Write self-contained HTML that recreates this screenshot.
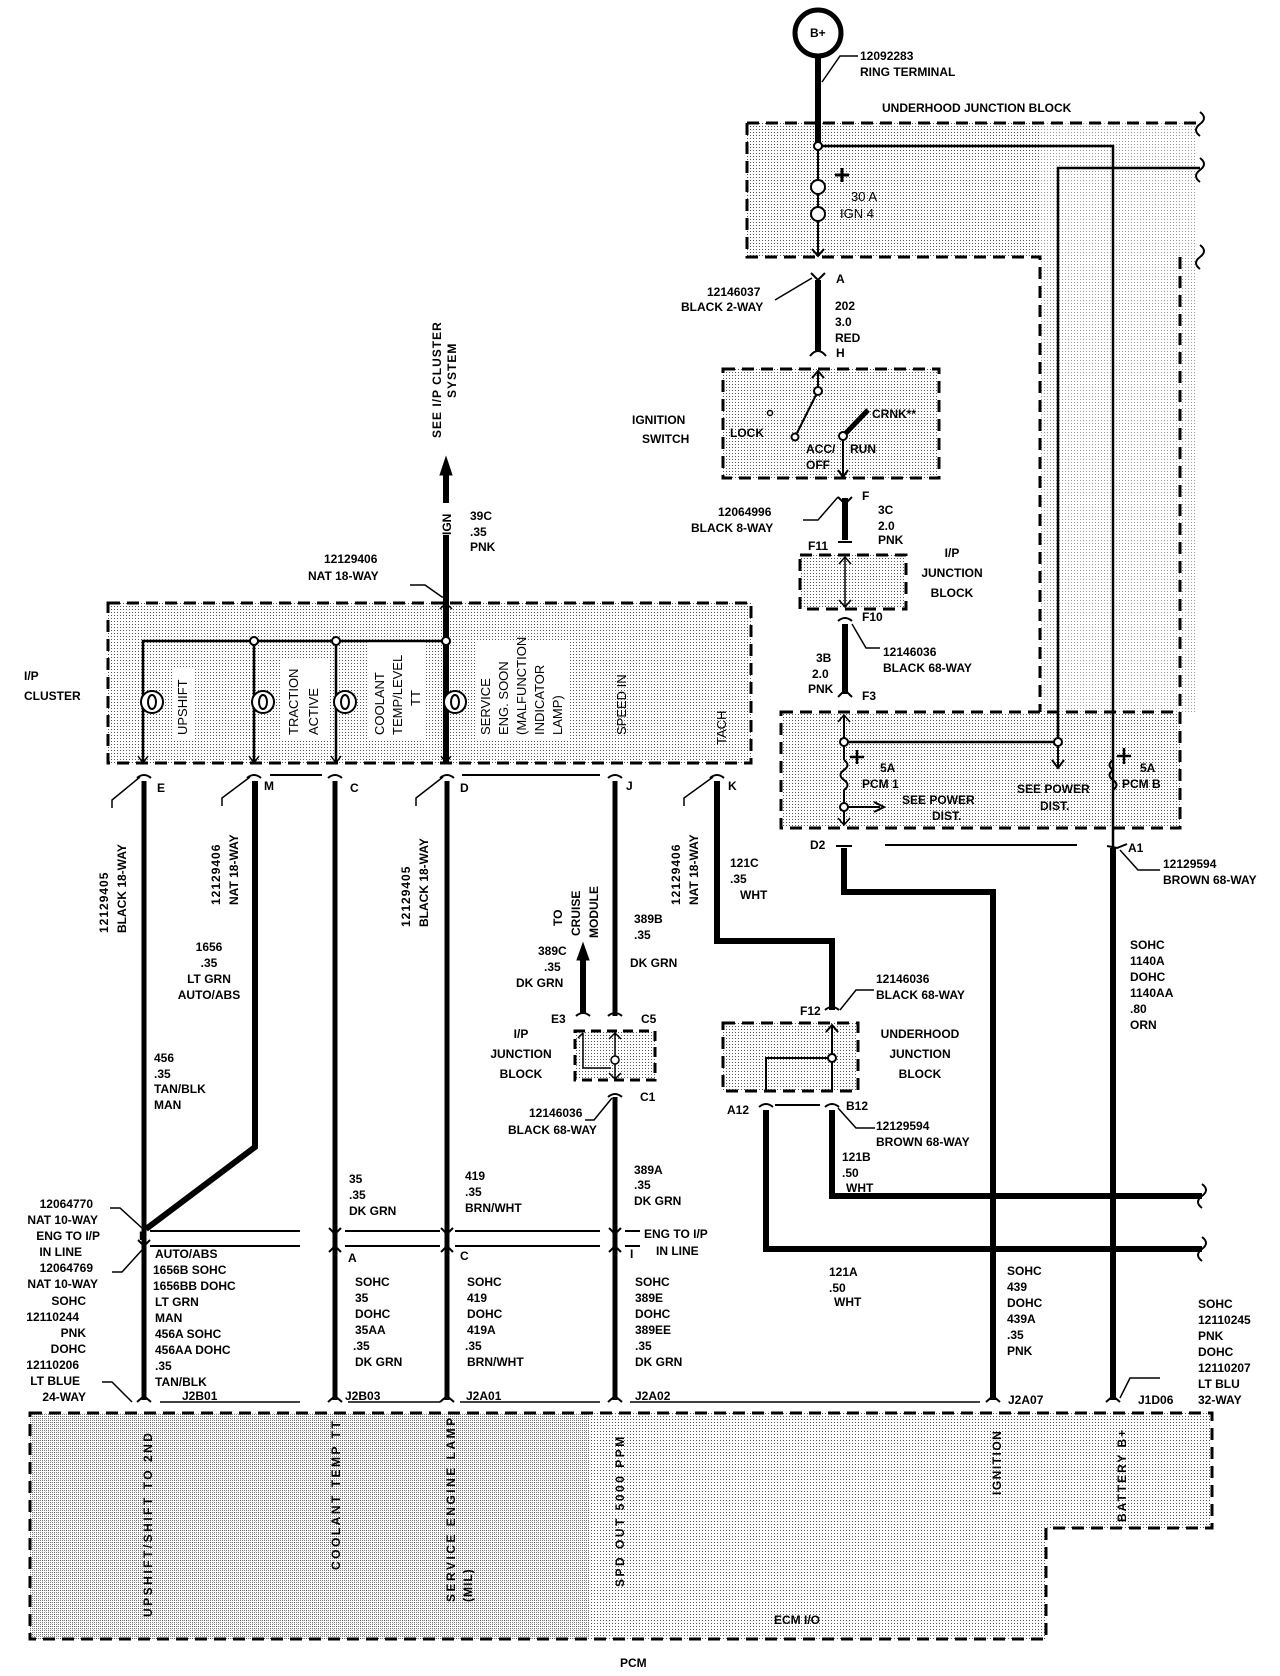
<!DOCTYPE html>
<html><head><meta charset="utf-8"><style>
html,body{margin:0;padding:0;background:#fff;}
svg{display:block;}
text{font-family:"Liberation Sans",sans-serif;font-weight:bold;font-size:12px;fill:#000;}
.n{font-weight:normal;font-size:13px;}
</style></head><body>
<svg width="1280" height="1676" viewBox="0 0 1280 1676" xmlns="http://www.w3.org/2000/svg">
<defs>
<pattern id="st" width="3" height="3" patternUnits="userSpaceOnUse"><rect width="3" height="3" fill="#fff"/><rect width="1" height="1" fill="#555"/></pattern>
<pattern id="st2" width="2" height="2" patternUnits="userSpaceOnUse"><rect width="2" height="2" fill="#fff"/><rect width="1" height="1" fill="#444"/></pattern>
</defs>
<g fill="none" stroke="#000">
<!-- UJB top -->
<path d="M747,123 H1040 V257 H747 Z" fill="url(#st)" stroke="none"/>
<path d="M1040,123 H1195 V712 H1040 Z" fill="url(#st)" stroke="none" opacity="0.6"/>
<path d="M747,123 H1200 M747,123 V257 H1040 V712" stroke-width="3" stroke-dasharray="12,7"/>
<path d="M1200,112 q8,6 0,12 q-8,6 0,12 M1200,158 q8,6 0,12 q-8,6 0,12 M1200,245 q8,6 0,12 q-8,6 0,12" stroke-width="2"/>
<!-- lower PCM fuse box -->
<rect x="781" y="712" width="399" height="116" fill="url(#st)" stroke-width="3" stroke-dasharray="12,7"/>
<path d="M1180,257 V712" stroke-width="3" stroke-dasharray="12,7"/>
<!-- B+ -->
<circle cx="818" cy="33" r="23" fill="#fff" stroke-width="5"/>
<path d="M818,56 V146" stroke-width="6"/>
<path d="M818,146 V180 M818,221 V255" stroke-width="2"/>
<circle cx="818" cy="146" r="4" fill="#fff" stroke-width="2"/>
<circle cx="818" cy="187" r="7" fill="#fff" stroke-width="2"/>
<circle cx="818" cy="214" r="7" fill="#fff" stroke-width="2"/>
<path d="M818,194 L818,207" stroke-width="2"/>
<path d="M842,168 V182 M835,175 H849" stroke-width="3"/>
<path d="M812,249 L818,256 L824,249" stroke-width="2"/>
<path d="M822,146 H1113 V1400" stroke-width="2.5"/>
<path d="M1200,168 H1058 V742" stroke-width="2.5"/>
<path d="M858,56 L840,56 L822,82" stroke-width="1.5"/>
<!-- 202 wire -->
<path d="M818,280 V352" stroke-width="6"/>
<path d="M811,273 L818,280 L825,273 M810,356 Q818,346 826,356" stroke-width="2"/>
<path d="M775,300 L812,278" stroke-width="1.5"/>
<!-- ignition switch -->
<rect x="723" y="369" width="216" height="109" fill="url(#st)" stroke-width="3" stroke-dasharray="12,7"/>
<path d="M818,372 V387 M812,378 L818,371 L824,378" stroke-width="2"/>
<circle cx="818" cy="391" r="4" fill="#fff" stroke-width="2"/>
<path d="M816,395 L797,433" stroke-width="2"/>
<circle cx="795" cy="437" r="3.5" fill="#fff" stroke-width="2"/>
<circle cx="770" cy="413" r="2.5" fill="#fff" stroke-width="1.5"/>
<path d="M845,434 L868,410" stroke-width="5"/>
<circle cx="843" cy="436" r="4" fill="#fff" stroke-width="2"/>
<path d="M843,440 V476 M838,470 L843,477 L848,470" stroke-width="2"/>
<!-- 3C wire -->
<path d="M845,498 V540" stroke-width="6"/>
<path d="M838,542 H852 M838,497 L845,504 L852,497" stroke-width="2"/>
<path d="M803,520 L818,520 L838,497" stroke-width="1.5"/>
<!-- I/P junction block -->
<rect x="800" y="555" width="106" height="54" fill="url(#st)" stroke-width="3" stroke-dasharray="12,7"/>
<path d="M845,557 V607 M839,564 L845,557 L851,564 M839,600 L845,607 L851,600" stroke-width="1.5"/>
<!-- 3B wire -->
<path d="M845,624 V694" stroke-width="6"/>
<path d="M838,621 Q845,615 852,621 M838,697 L845,690 L852,697" stroke-width="2"/>
<path d="M852,624 L866,648 L880,648" stroke-width="1.5"/>
<!-- PCM fuse box internals -->
<path d="M844,716 V760 M844,790 V824" stroke-width="2"/>
<path d="M838,722 L844,715 L850,722 M838,818 L844,825 L850,818" stroke-width="1.5"/>
<path d="M844,760 q7,5 0,10 q-7,5 0,10 q7,5 0,10" stroke-width="2"/>
<path d="M848,742 H1054" stroke-width="2.5"/>
<circle cx="844" cy="742" r="4" fill="#fff" stroke-width="2"/>
<circle cx="1058" cy="742" r="4" fill="#fff" stroke-width="2"/>
<path d="M1058,746 V768 M1052,760 L1058,768 L1064,760" stroke-width="2"/>
<circle cx="844" cy="807" r="4" fill="#fff" stroke-width="2"/>
<path d="M848,807 H880 M874,802 L884,807 L874,812" stroke-width="2"/>
<path d="M857,750 V764 M850,757 H864" stroke-width="2.5"/>
<path d="M1124,748 V764 M1117,756 H1131" stroke-width="2.5"/>
<path d="M1113,760 q-7,5 0,10 q-7,5 0,10 q7,5 0,10" stroke-width="2"/>
<!-- D2 wire -->
<path d="M844,848 V892 H993 V1400" stroke-width="6"/>
<path d="M836,846 H852 M885,845 H1077 M1107,846 L1117,848 L1127,844" stroke-width="2"/>
<path d="M1113,848 V1400" stroke-width="6"/>
<path d="M1120,850 L1138,870 L1160,870" stroke-width="1.5"/>
<path d="M986,1402 L993,1396 L1000,1402 M1106,1402 L1113,1396 L1120,1402" stroke-width="2"/>
<path d="M1120,1398 L1130,1378 L1160,1378" stroke-width="1.5"/>
<!-- I/P cluster -->
<rect x="108" y="603" width="643" height="160" fill="url(#st)" stroke-width="3" stroke-dasharray="12,7"/>
<rect x="172" y="668" width="22" height="72" fill="#fff" stroke="none"/>
<rect x="282" y="660" width="46" height="80" fill="#fff" stroke="none"/>
<rect x="368" y="640" width="56" height="100" fill="#fff" stroke="none"/>
<rect x="476" y="640" width="94" height="100" fill="#fff" stroke="none"/>
<path d="M446,470 V503 M446,535 V763" stroke-width="6"/>
<path d="M446,604 V763" stroke-width="2"/>
<path d="M446,457 L440,475 H452 Z" fill="#000" stroke-width="1"/>
<path d="M143,763 V641 H446 M254,641 V763 M336,641 V763" stroke-width="2.5"/>
<circle cx="254" cy="641" r="4" fill="#fff" stroke-width="2"/>
<circle cx="336" cy="641" r="4" fill="#fff" stroke-width="2"/>
<circle cx="446" cy="641" r="4" fill="#fff" stroke-width="2"/>
<g stroke-width="2" fill="#fff">
<circle cx="152" cy="702" r="11"/><ellipse cx="152" cy="702" rx="4" ry="7"/>
<circle cx="263" cy="702" r="11"/><ellipse cx="263" cy="702" rx="4" ry="7"/>
<circle cx="345" cy="702" r="11"/><ellipse cx="345" cy="702" rx="4" ry="7"/>
<circle cx="455" cy="702" r="11"/><ellipse cx="455" cy="702" rx="4" ry="7"/>
</g>
<path d="M440,609 L446,603 L452,609 M138,756 L143,763 L148,756 M249,756 L254,763 L259,756 M331,756 L336,763 L341,756 M441,756 L446,763 L451,756" stroke-width="1.5"/>
<path d="M410,585 L425,585 L442,597 L446,597" stroke-width="1.5"/>
<!-- connectors below cluster -->
<g stroke-width="2">
<path d="M137,778 Q144,772 151,778 M247,778 Q254,772 261,778 M328,778 Q335,772 342,778 M440,778 Q447,772 454,778 M608,778 Q615,772 622,778 M710,778 Q717,772 724,778"/>
<path d="M270,775 H322 M462,775 H600"/>
</g>
<path d="M144,781 V1400" stroke-width="5"/>
<path d="M255,781 V1147 L146,1229" stroke-width="6"/>
<path d="M335,781 V1400" stroke-width="5"/>
<path d="M447,781 V1400" stroke-width="5"/>
<path d="M615,781 V1016 M615,1097 V1400" stroke-width="5"/>
<path d="M717,781 V941 H832 V1010" stroke-width="6"/>
<path d="M112,808 L112,800 L140,777 M222,806 L222,798 L250,777 M416,806 L416,798 L443,777 M684,806 L684,798 L713,777" stroke-width="1.5"/>
<!-- inline connector -->
<path d="M150,1231 H300 M345,1231 H440 M455,1231 H600 M625,1231 H640 M150,1246 H300 M345,1246 H440 M455,1246 H600 M625,1246 H640" stroke-width="2"/>
<path d="M138,1240 L144,1246 L150,1240 M329,1228 L335,1234 L341,1228 M441,1228 L447,1234 L453,1228 M609,1228 L615,1234 L621,1228 M329,1252 L335,1246 L341,1252 M441,1252 L447,1246 L453,1252 M609,1252 L615,1246 L621,1252" stroke-width="2"/>
<path d="M110,1208 L120,1208 L142,1228 M112,1272 L122,1272 L142,1250" stroke-width="1.5"/>
<path d="M102,1382 L112,1382 L132,1402" stroke-width="1.5"/>
<path d="M137,1402 L144,1396 L151,1402 M328,1402 L335,1396 L342,1402 M440,1402 L447,1396 L454,1402 M608,1402 L615,1396 L622,1402" stroke-width="2"/>
<path d="M160,1402 H300 M348,1402 H440 M460,1402 H600 M630,1402 H980" stroke-width="1.5"/>
<!-- cruise/IPJB small -->
<path d="M583,955 V1013" stroke-width="6"/>
<path d="M583,943 L577,960 H589 Z" fill="#000" stroke-width="1"/>
<path d="M576,1016 Q583,1010 590,1016 M608,1016 Q615,1010 622,1016" stroke-width="2"/>
<rect x="575" y="1031" width="80" height="49" fill="url(#st)" stroke-width="3" stroke-dasharray="10,6"/>
<path d="M583,1033 V1068 H611 M615,1033 V1079 M609,1039 L615,1033 L621,1039 M609,1073 L615,1079 L621,1073 M578,1038 L583,1033" stroke-width="1.5"/>
<circle cx="615" cy="1060" r="4" fill="#fff" stroke-width="1.5"/>
<path d="M608,1097 Q615,1091 622,1097" stroke-width="2"/>
<path d="M585,1120 L594,1120 L612,1098" stroke-width="1.5"/>
<!-- underhood lower -->
<rect x="723" y="1023" width="135" height="68" fill="url(#st)" stroke-width="3" stroke-dasharray="12,7"/>
<path d="M825,1010 Q832,1004 839,1010" stroke-width="2"/>
<path d="M840,1010 L856,990 L874,990" stroke-width="1.5"/>
<path d="M832,1026 V1091 M826,1032 L832,1025 L838,1032 M828,1058 H766 V1091" stroke-width="2"/>
<circle cx="832" cy="1058" r="4" fill="#fff" stroke-width="2"/>
<path d="M759,1107 Q766,1101 773,1107 M825,1107 Q832,1101 839,1107 M775,1105 H820" stroke-width="2"/>
<path d="M838,1108 L856,1128 L875,1128" stroke-width="1.5"/>
<path d="M832,1110 V1196 H1202 M766,1110 V1249 H1202" stroke-width="6"/>
<path d="M1202,1184 q8,6 0,12 q-8,6 0,12 M1202,1237 q8,6 0,12 q-8,6 0,12" stroke-width="2"/>
<!-- PCM -->
<path d="M30,1413 H1212 V1528 H1046 V1639 H30 Z" fill="url(#st)" stroke="none"/>
<rect x="30" y="1413" width="560" height="226" fill="url(#st2)" stroke="none" opacity="0.7"/>
<path d="M30,1413 H1212 V1528 H1046 V1639 H30 Z" stroke-width="3" stroke-dasharray="12,7"/>
</g>

<!-- TEXT -->
<text x="810" y="37" font-size="11">B+</text>
<text x="860" y="60">12092283</text>
<text x="860" y="76">RING TERMINAL</text>
<text x="882" y="112" font-size="14">UNDERHOOD JUNCTION BLOCK</text>
<text x="851" y="201" class="n" font-size="12">30 A</text>
<text x="840" y="218" class="n" font-size="12">IGN  4</text>
<text x="836" y="283">A</text>
<text x="707" y="296">12146037</text>
<text x="681" y="311">BLACK 2-WAY</text>
<text x="835" y="310">202</text>
<text x="835" y="326">3.0</text>
<text x="835" y="342">RED</text>
<text x="836" y="357">H</text>
<text x="632" y="424" font-size="14">IGNITION</text>
<text x="642" y="443" font-size="14">SWITCH</text>
<text x="730" y="437">LOCK</text>
<text x="806" y="453">ACC/</text>
<text x="806" y="469">OFF</text>
<text x="872" y="418">CRNK**</text>
<text x="850" y="453">RUN</text>
<text x="862" y="500" font-size="11">F</text>
<text x="718" y="516">12064996</text>
<text x="691" y="532">BLACK 8-WAY</text>
<text x="878" y="514">3C</text>
<text x="878" y="530">2.0</text>
<text x="878" y="544">PNK</text>
<text x="808" y="550">F11</text>
<text x="952" y="557" font-size="14" text-anchor="middle">I/P</text>
<text x="952" y="577" font-size="14" text-anchor="middle">JUNCTION</text>
<text x="952" y="597" font-size="14" text-anchor="middle">BLOCK</text>
<text x="862" y="621">F10</text>
<text x="883" y="656">12146036</text>
<text x="883" y="672">BLACK 68-WAY</text>
<text x="816" y="662">3B</text>
<text x="812" y="678">2.0</text>
<text x="808" y="693">PNK</text>
<text x="862" y="700">F3</text>
<text x="880" y="772">5A</text>
<text x="862" y="788">PCM 1</text>
<text x="902" y="804">SEE POWER</text>
<text x="932" y="820">DIST.</text>
<text x="1017" y="793">SEE POWER</text>
<text x="1040" y="810">DIST.</text>
<text x="1140" y="772">5A</text>
<text x="1122" y="788">PCM B</text>
<text x="810" y="849">D2</text>
<text x="1128" y="852">A1</text>
<text x="1163" y="868">12129594</text>
<text x="1163" y="884">BROWN 68-WAY</text>
<text x="1130" y="949">SOHC</text>
<text x="1130" y="965">1140A</text>
<text x="1130" y="981">DOHC</text>
<text x="1130" y="997">1140AA</text>
<text x="1130" y="1013">.80</text>
<text x="1130" y="1029">ORN</text>
<text x="730" y="867">121C</text>
<text x="730" y="883">.35</text>
<text x="740" y="899">WHT</text>
<text x="800" y="1015">F12</text>
<text x="876" y="983">12146036</text>
<text x="876" y="999">BLACK 68-WAY</text>
<text x="920" y="1038" font-size="14" text-anchor="middle">UNDERHOOD</text>
<text x="920" y="1058" font-size="14" text-anchor="middle">JUNCTION</text>
<text x="920" y="1078" font-size="14" text-anchor="middle">BLOCK</text>
<text x="727" y="1114">A12</text>
<text x="846" y="1110">B12</text>
<text x="876" y="1130">12129594</text>
<text x="876" y="1146">BROWN 68-WAY</text>
<text x="842" y="1161">121B</text>
<text x="842" y="1177">.50</text>
<text x="846" y="1192">WHT</text>
<text x="829" y="1276">121A</text>
<text x="829" y="1292">.50</text>
<text x="834" y="1306">WHT</text>
<text x="1007" y="1275">SOHC</text>
<text x="1007" y="1291">439</text>
<text x="1007" y="1307">DOHC</text>
<text x="1007" y="1323">439A</text>
<text x="1007" y="1339">.35</text>
<text x="1007" y="1355">PNK</text>
<text x="1008" y="1404">J2A07</text>
<text x="1138" y="1404">J1D06</text>
<text x="1198" y="1308">SOHC</text>
<text x="1198" y="1324">12110245</text>
<text x="1198" y="1340">PNK</text>
<text x="1198" y="1356">DOHC</text>
<text x="1198" y="1372">12110207</text>
<text x="1198" y="1388">LT BLU</text>
<text x="1198" y="1404">32-WAY</text>

<!-- left rotated -->
<text transform="translate(441,438) rotate(-90)" letter-spacing="1">SEE I/P CLUSTER</text>
<text transform="translate(456,398) rotate(-90)" letter-spacing="1">SYSTEM</text>
<text transform="translate(451,535) rotate(-90)" font-size="11">IGN</text>
<text x="470" y="520">39C</text>
<text x="470" y="536">.35</text>
<text x="470" y="551">PNK</text>
<text x="324" y="563">12129406</text>
<text x="308" y="580">NAT 18-WAY</text>
<text x="24" y="680" font-size="14">I/P</text>
<text x="24" y="700" font-size="14">CLUSTER</text>
<g class="n">
<text transform="translate(187,735) rotate(-90)" class="n">UPSHIFT</text>
<text transform="translate(298,735) rotate(-90)" class="n">TRACTION</text>
<text transform="translate(318,735) rotate(-90)" class="n">ACTIVE</text>
<text transform="translate(384,735) rotate(-90)" class="n">COOLANT</text>
<text transform="translate(402,735) rotate(-90)" class="n">TEMP/LEVEL</text>
<text transform="translate(420,706) rotate(-90)" class="n">TT</text>
<text transform="translate(490,735) rotate(-90)" class="n">SERVICE</text>
<text transform="translate(508,735) rotate(-90)" class="n">ENG. SOON</text>
<text transform="translate(526,735) rotate(-90)" class="n">(MALFUNCTION</text>
<text transform="translate(544,735) rotate(-90)" class="n">INDICATOR</text>
<text transform="translate(562,735) rotate(-90)" class="n">LAMP)</text>
<text transform="translate(626,735) rotate(-90)" class="n">SPEED IN</text>
<text transform="translate(726,745) rotate(-90)" class="n">TACH</text>
</g>
<text x="157" y="792" font-size="11">E</text>
<text x="264" y="790" font-size="11">M</text>
<text x="350" y="792" font-size="11">C</text>
<text x="460" y="792" font-size="11">D</text>
<text x="626" y="790" font-size="11">J</text>
<text x="728" y="790" font-size="11">K</text>
<text transform="translate(108,933) rotate(-90)" letter-spacing="1">12129405</text>
<text transform="translate(126,933) rotate(-90)">BLACK 18-WAY</text>
<text transform="translate(220,905) rotate(-90)" letter-spacing="1">12129406</text>
<text transform="translate(238,905) rotate(-90)">NAT 18-WAY</text>
<text transform="translate(410,927) rotate(-90)" letter-spacing="1">12129405</text>
<text transform="translate(428,927) rotate(-90)">BLACK 18-WAY</text>
<text transform="translate(680,905) rotate(-90)" letter-spacing="1">12129406</text>
<text transform="translate(698,905) rotate(-90)">NAT 18-WAY</text>
<text transform="translate(562,926) rotate(-90)" font-size="13">TO</text>
<text transform="translate(580,936) rotate(-90)" font-size="13">CRUISE</text>
<text transform="translate(598,938) rotate(-90)" font-size="13">MODULE</text>
<text x="209" y="951" text-anchor="middle">1656</text>
<text x="209" y="967" text-anchor="middle">.35</text>
<text x="209" y="983" text-anchor="middle">LT GRN</text>
<text x="209" y="999" text-anchor="middle">AUTO/ABS</text>
<text x="154" y="1062">456</text>
<text x="154" y="1078">.35</text>
<text x="154" y="1093">TAN/BLK</text>
<text x="154" y="1109">MAN</text>
<text x="538" y="955">389C</text>
<text x="544" y="971">.35</text>
<text x="516" y="987">DK GRN</text>
<text x="634" y="923">389B</text>
<text x="634" y="939">.35</text>
<text x="630" y="967">DK GRN</text>
<text x="551" y="1023">E3</text>
<text x="641" y="1023">C5</text>
<text x="521" y="1038" font-size="14" text-anchor="middle">I/P</text>
<text x="521" y="1058" font-size="14" text-anchor="middle">JUNCTION</text>
<text x="521" y="1078" font-size="14" text-anchor="middle">BLOCK</text>
<text x="640" y="1101">C1</text>
<text x="529" y="1117">12146036</text>
<text x="508" y="1134">BLACK 68-WAY</text>
<text x="634" y="1174">389A</text>
<text x="634" y="1189">.35</text>
<text x="634" y="1205">DK GRN</text>
<text x="465" y="1180">419</text>
<text x="465" y="1196">.35</text>
<text x="465" y="1212">BRN/WHT</text>
<text x="349" y="1183">35</text>
<text x="349" y="1199">.35</text>
<text x="349" y="1215">DK GRN</text>
<text x="644" y="1238">ENG TO I/P</text>
<text x="656" y="1255">IN LINE</text>
<text x="139" y="1240" font-size="11">E</text>
<text x="348" y="1262" font-size="11">A</text>
<text x="460" y="1260" font-size="11">C</text>
<text x="630" y="1258" font-size="11">I</text>
<g text-anchor="end">
<text x="93" y="1208">12064770</text>
<text x="98" y="1224">NAT 10-WAY</text>
<text x="100" y="1240">ENG TO I/P</text>
<text x="82" y="1256">IN LINE</text>
<text x="93" y="1272">12064769</text>
<text x="98" y="1288">NAT 10-WAY</text>
<text x="86" y="1305">SOHC</text>
<text x="79" y="1321">12110244</text>
<text x="86" y="1337">PNK</text>
<text x="86" y="1353">DOHC</text>
<text x="79" y="1369">12110206</text>
<text x="80" y="1385">LT BLUE</text>
<text x="86" y="1401">24-WAY</text>
</g>
<text x="155" y="1258">AUTO/ABS</text>
<text x="153" y="1274">1656B SOHC</text>
<text x="153" y="1290">1656BB DOHC</text>
<text x="155" y="1306">LT GRN</text>
<text x="155" y="1322">MAN</text>
<text x="155" y="1338">456A SOHC</text>
<text x="155" y="1354">456AA DOHC</text>
<text x="155" y="1370">.35</text>
<text x="155" y="1386">TAN/BLK</text>
<text x="182" y="1400">J2B01</text>
<text x="355" y="1286">SOHC</text>
<text x="355" y="1302">35</text>
<text x="355" y="1318">DOHC</text>
<text x="355" y="1334">35AA</text>
<text x="353" y="1350">.35</text>
<text x="355" y="1366">DK GRN</text>
<text x="345" y="1400">J2B03</text>
<text x="467" y="1286">SOHC</text>
<text x="467" y="1302">419</text>
<text x="467" y="1318">DOHC</text>
<text x="467" y="1334">419A</text>
<text x="465" y="1350">.35</text>
<text x="467" y="1366">BRN/WHT</text>
<text x="466" y="1400">J2A01</text>
<text x="635" y="1286">SOHC</text>
<text x="635" y="1302">389E</text>
<text x="635" y="1318">DOHC</text>
<text x="635" y="1334">389EE</text>
<text x="635" y="1350">.35</text>
<text x="635" y="1366">DK GRN</text>
<text x="635" y="1400">J2A02</text>
<!-- PCM labels -->
<text transform="translate(152,1617) rotate(-90)" letter-spacing="2.5">UPSHIFT/SHIFT TO 2ND</text>
<text transform="translate(340,1570) rotate(-90)" letter-spacing="2.5">COOLANT TEMP TT</text>
<text transform="translate(455,1602) rotate(-90)" letter-spacing="2.5">SERVICE ENGINE LAMP</text>
<text transform="translate(472,1602) rotate(-90)" letter-spacing="1">(MIL)</text>
<text transform="translate(624,1587) rotate(-90)" letter-spacing="2.5">SPD OUT 5000 PPM</text>
<text transform="translate(1001,1495) rotate(-90)" letter-spacing="1.5">IGNITION</text>
<text transform="translate(1126,1522) rotate(-90)" letter-spacing="2">BATTERY B+</text>
<text x="774" y="1624" font-size="13">ECM I/O</text>
<text x="620" y="1667" font-size="13">PCM</text>
</svg>
</body></html>
